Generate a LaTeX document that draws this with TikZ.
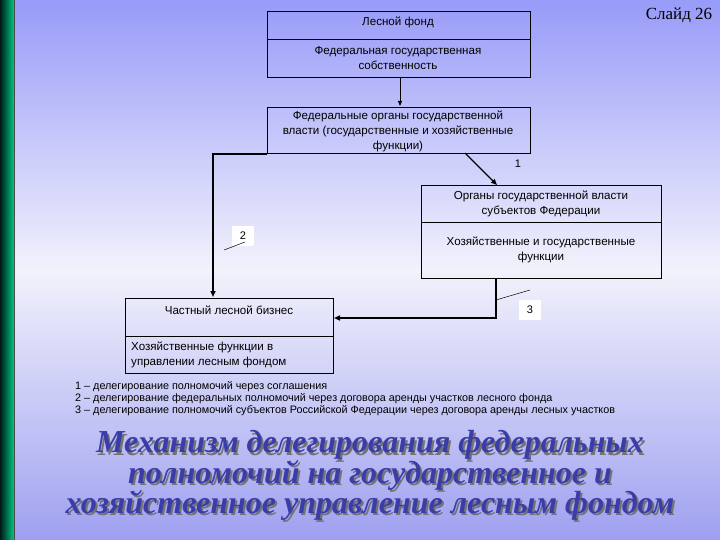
\documentclass[tikz,border=0pt]{standalone}
\usepackage{fontspec}
\setmainfont{Liberation Sans}
\newfontfamily\serifft{Liberation Serif}
\usetikzlibrary{arrows.meta}
\definecolor{bgtop}{HTML}{989BF8}
\definecolor{bgmid}{HTML}{F2F2FC}
\definecolor{bgbot}{HTML}{9EA0F0}
\definecolor{ttl}{HTML}{3A3CA8}
\begin{document}
\begin{tikzpicture}[x=1pt,y=-1pt,
  box/.style={draw=black,line width=0.8pt},
  txt/.style={font=\fontsize{11.6}{15}\selectfont,align=center,inner sep=0pt},
  lbl/.style={fill=white,font=\fontsize{11}{12}\selectfont,inner sep=3pt,minimum width=22pt,minimum height=20pt},
  conn/.style={line width=1.6pt,-{Triangle[length=6pt,width=5pt]}},
  leg/.style={font=\fontsize{10.8}{12}\selectfont,anchor=west,inner sep=0pt},
  ttlstyle/.style={font=\serifft\fontsize{32}{33}\selectfont\bfseries\itshape,inner sep=0pt}]
\useasboundingbox (0,0) rectangle (720,540);
\shade[top color=bgtop,bottom color=bgmid] (0,0) rectangle (720,270);
\shade[top color=bgmid,bottom color=bgbot] (0,270) rectangle (720,540);
\shade[left color=black!80!teal,right color=teal!60!green!70!cyan] (0,0) rectangle (14,540);
\draw[black!70,line width=0.8pt] (14.5,0) -- (14.5,540);
% boxes
\draw[box] (267,11) rectangle (530,77); \draw[box] (267,39) -- (530,39);
\node[txt] (a1) at (398,22) {Лесной фонд};
\node[txt] (a2) at (398,58) {Федеральная государственная\\собственность};
\draw[box] (267,107) rectangle (530,153);
\node[txt] (b) at (398,131) {Федеральные органы государственной\\власти (государственные и хозяйственные\\функции)};
\draw[box] (421,185) rectangle (661,278); \draw[box] (421,222) -- (661,222);
\node[txt] (c1) at (541,204) {Органы государственной власти\\субъектов Федерации};
\node[txt] (c2) at (541,250) {Хозяйственные и государственные\\функции};
\draw[box] (125,298) rectangle (333,373); \draw[box] (125,336) -- (333,336);
\node[txt] (d1) at (229,310) {Частный лесной бизнес};
\node[txt,align=left,anchor=west] (d2) at (131,355) {Хозяйственные функции в\\управлении лесным фондом};
% coordinates
\coordinate (aB) at (400,77); \coordinate (bT) at (400,106);
\coordinate (bB) at (465,153); \coordinate (cT) at (497,185);
\coordinate (bL) at (267,154); \coordinate (dT) at (213,297);
\coordinate (cB) at (496,278); \coordinate (dR) at (334,318);
% connectors
\draw[line width=0.9pt,-{Triangle[length=5pt,width=4pt]}] (aB) -- (bT);
\draw[line width=1.2pt,-{Triangle[length=6pt,width=5pt]}] (bB) -- (cT);
\draw[conn] (bL) -- (213,154) -- (dT);
\draw[conn] (cB) -- (496,318) -- (dR);
% labels
\node[font=\fontsize{11}{12}\selectfont] (l1) at (518,164) {1};
\node[lbl] (l2) at (243,236) {2};
\draw[line width=0.5pt] (224,250) -- (245,242);
\node[lbl] (l3) at (530,310) {3};
\draw[line width=0.5pt] (496,300) -- (530,290);
% legend
\node[leg] (g1) at (75,387) {1 -- делегирование полномочий через соглашения};
\node[leg] (g2) at (75,399) {2 -- делегирование федеральных полномочий через договора аренды участков лесного фонда};
\node[leg] (g3) at (75,411) {3 -- делегирование полномочий субъектов Российской Федерации через договора аренды лесных участков};
% title
\foreach \t/\yy in {{Механизм делегирования федеральных}/445,{полномочий на государственное и}/475,{хозяйственное управление лесным фондом}/505}{
  \node[ttlstyle,text=black!55] at (372,\yy+2.5) {\t};
  \node[ttlstyle,text=ttl] at (370,\yy) {\t};
}
\node[font=\serifft\fontsize{17}{18}\selectfont] (s) at (679,15) {Слайд 26};
\end{tikzpicture}
\end{document}
